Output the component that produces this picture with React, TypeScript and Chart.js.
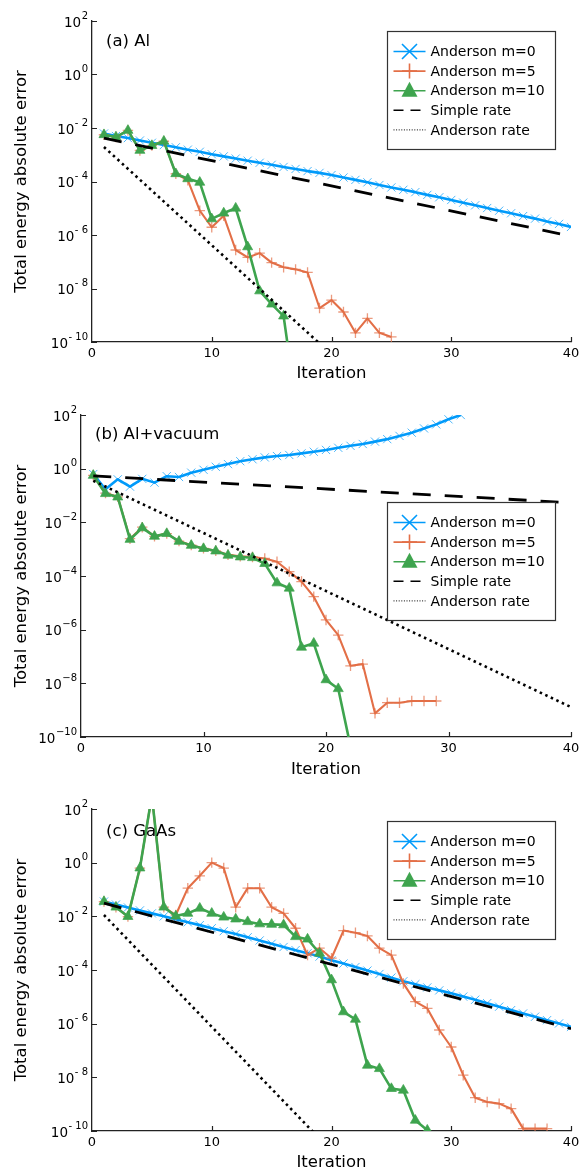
import React, { useEffect, useRef } from 'react';
import { Chart, registerables } from 'chart.js';

Chart.register(...registerables);

const FONT = "'DejaVu Sans', 'Liberation Sans', sans-serif";
const BLUE = '#009AFA';
const ORANGE = '#E36F47';
const GREEN = '#3EA44E';

// ---------- categories / ticks / labels ----------
const iterations = [1, 2, 3, 4, 5, 6, 7, 8, 9, 10, 11, 12, 13, 14, 15, 16, 17, 18, 19, 20,
  21, 22, 23, 24, 25, 26, 27, 28, 29, 30, 31, 32, 33, 34, 35, 36, 37, 38, 39, 40];
const rateIterations = [1, 40];
const xMin = 0;
const xMax = 40;
const xTickStep = 10;
const yTickExponents = [2, 0, -2, -4, -6, -8, -10];
const seriesLabels = ['Anderson m=0', 'Anderson m=5', 'Anderson m=10', 'Simple rate', 'Anderson rate'];
const panelTitles = ['(a) Al', '(b) Al+vacuum', '(c) GaAs'];
const xAxisTitle = 'Iteration';
const yAxisTitle = 'Total energy absolute error';

// ---------- (a) Al ----------
const alM0 = [6.2e-3, 5.0e-3, 4.2e-3, 3.4e-3, 2.8e-3, 2.3e-3, 1.9e-3, 1.55e-3, 1.29e-3, 1.05e-3,
  8.7e-4, 7.2e-4, 6.0e-4, 5.0e-4, 4.2e-4, 3.5e-4, 2.95e-4, 2.45e-4, 2.1e-4, 1.74e-4,
  1.41e-4, 1.15e-4, 9.3e-5, 7.4e-5, 6.0e-5, 4.9e-5, 4.0e-5, 3.16e-5, 2.57e-5, 2.04e-5,
  1.62e-5, 1.29e-5, 1.02e-5, 8.1e-6, 6.5e-6, 5.1e-6, 4.1e-6, 3.2e-6, 2.6e-6, 2.0e-6];
const alM5 = [5.6e-3, 4.6e-3, 8.1e-3, 1.45e-3, 2.2e-3, 3.2e-3, 1.95e-4, 1.12e-4, 8.1e-6, 1.95e-6,
  5.2e-6, 2.75e-7, 1.45e-7, 2.1e-7, 9.3e-8, 6.2e-8, 5.2e-8, 4.0e-8, 1.86e-9, 3.7e-9,
  1.32e-9, 2.2e-10, 7.6e-10, 2.2e-10, 1.55e-10];
const alM10 = [5.6e-3, 4.6e-3, 8.1e-3, 1.45e-3, 2.2e-3, 3.2e-3, 1.95e-4, 1.26e-4, 9.3e-5, 4.0e-6,
  6.6e-6, 1.0e-5, 3.6e-7, 8.1e-9, 2.6e-9, 9.3e-10, 6.3e-13];
const alSimpleRate = [4.2e-3, 9.1e-7];
const alAndersonRate = [1.95e-3, 2.4e-19];

// ---------- (b) Al+vacuum ----------
const vacM0 = [0.63, 0.17, 0.40, 0.214, 0.417, 0.302, 0.525, 0.49, 0.71, 0.91,
  1.175, 1.48, 1.9, 2.24, 2.63, 2.95, 3.24, 3.72, 4.27, 5.0,
  6.0, 7.1, 8.3, 10.2, 12.6, 16.6, 21.9, 31.6, 44.7, 69, 100];
const vacM5 = [0.56, 0.123, 0.089, 2.45e-3, 6.6e-3, 3.0e-3, 3.8e-3, 2.0e-3, 1.41e-3, 1.07e-3,
  8.7e-4, 6.2e-4, 5.4e-4, 5.1e-4, 4.5e-4, 3.4e-4, 1.45e-4, 6.2e-5, 1.7e-5, 2.3e-6,
  6.3e-7, 4.5e-8, 5.2e-8, 7.6e-10, 1.9e-9, 1.9e-9, 2.2e-9, 2.2e-9, 2.2e-9];
const vacM10 = [0.56, 0.117, 0.087, 2.3e-3, 6.2e-3, 3.0e-3, 3.8e-3, 1.95e-3, 1.38e-3, 1.05e-3,
  8.5e-4, 5.9e-4, 5.1e-4, 4.8e-4, 2.9e-4, 5.5e-5, 3.5e-5, 2.2e-7, 3.1e-7, 1.35e-8,
  6.3e-9, 4.5e-11];
const vacSimpleRate = [0.537, 0.0537];
const vacAndersonRate = [0.355, 1.3e-9];

// ---------- (c) GaAs ----------
const gaasM0 = [0.0355, 0.0275, 0.0214, 0.0166, 0.0129, 0.0100, 7.8e-3, 6.0e-3, 4.7e-3, 3.6e-3,
  2.8e-3, 2.2e-3, 1.66e-3, 1.26e-3, 9.5e-4, 7.2e-4, 5.5e-4, 4.2e-4, 3.16e-4, 2.3e-4,
  1.74e-4, 1.29e-4, 9.5e-5, 7.1e-5, 5.2e-5, 3.8e-5, 2.95e-5, 2.24e-5, 1.74e-5, 1.35e-5,
  1.02e-5, 7.8e-6, 5.8e-6, 4.3e-6, 3.2e-6, 2.4e-6, 1.82e-6, 1.35e-6, 1.02e-6, 7.6e-7];
const gaasM5 = [0.0355, 0.0219, 9.8e-3, 0.63, 316, 0.0219, 0.0112, 0.112, 0.324, 1.0,
  0.63, 0.0219, 0.112, 0.112, 0.0219, 0.0129, 3.6e-3, 3.6e-4, 6.5e-4, 2.75e-4,
  2.95e-3, 2.45e-3, 1.86e-3, 6.5e-4, 3.6e-4, 3.16e-5, 6.6e-6, 3.7e-6, 5.8e-7, 1.35e-7,
  1.2e-8, 1.74e-9, 1.2e-9, 1.05e-9, 6.8e-10, 1.23e-10, 1.23e-10, 1.23e-10];
const gaasM10 = [0.0355, 0.0219, 9.8e-3, 0.63, 316, 0.0219, 0.0102, 0.0129, 0.020, 0.0129,
  9.3e-3, 7.9e-3, 6.3e-3, 5.2e-3, 5.0e-3, 4.8e-3, 1.74e-3, 1.41e-3, 4.2e-4, 4.3e-5,
  2.75e-6, 1.45e-6, 2.8e-8, 2.1e-8, 3.8e-9, 3.3e-9, 2.5e-10, 1.07e-10];
const gaasSimpleRate = [0.0309, 6.5e-7];
const gaasAndersonRate = [0.0112, 1e-20];

const panelSeries = [
  [alM0, alM5, alM10, alSimpleRate, alAndersonRate],
  [vacM0, vacM5, vacM10, vacSimpleRate, vacAndersonRate],
  [gaasM0, gaasM5, gaasM10, gaasSimpleRate, gaasAndersonRate],
];

// ---------- layout / style (not data) ----------
const layouts = [
  { height: 390, top: 21, left: 92, xAxisH: 48, xTitlePad: 8, minus: '- ', legendTop: 10, titleDy: 21 },
  { height: 390, top: 25, left: 81, xAxisH: 43, xTitlePad: 2, minus: '\u2212', legendTop: 87, titleDy: 20 },
  { height: 391, top: 29, left: 92, xAxisH: 40, xTitlePad: 0, minus: '- ', legendTop: 12, titleDy: 23 },
];

const styles = [
  { color: BLUE, width: 2.6, point: 'crossRot', radius: 5.8, pColor: 'rgba(0,154,250,0.7)', pWidth: 1, pFill: 'rgba(0,0,0,0)', dash: [] as number[], legendDash: [] as number[], legendWidth: 1.6, order: 5 },
  { color: ORANGE, width: 2.1, point: 'cross', radius: 5.2, pColor: 'rgba(227,111,71,0.7)', pWidth: 1.3, pFill: 'rgba(0,0,0,0)', dash: [], legendDash: [], legendWidth: 1.6, order: 4 },
  { color: GREEN, width: 2.6, point: 'triangle', radius: 5.8, pColor: 'rgba(62,164,78,0.7)', pWidth: 1, pFill: GREEN, dash: [], legendDash: [], legendWidth: 1.6, order: 3 },
  { color: '#000', width: 2.8, point: false, radius: 0, pColor: '#000', pWidth: 0, pFill: '#000', dash: [18, 14], legendDash: [10, 7], legendWidth: 1.6, order: 2 },
  { color: '#000', width: 2.6, point: false, radius: 0, pColor: '#000', pWidth: 0, pFill: '#000', dash: [2.5, 3.6], legendDash: [1, 1.6], legendWidth: 1, order: 1 },
];

function drawLegendMarker(ctx: CanvasRenderingContext2D, kind: any, x: number, y: number, color: string) {
  ctx.save();
  ctx.setLineDash([]);
  ctx.strokeStyle = color;
  ctx.fillStyle = color;
  ctx.lineWidth = 1.6;
  if (kind === 'crossRot') {
    const r = 7.5;
    ctx.beginPath();
    ctx.moveTo(x - r, y - r); ctx.lineTo(x + r, y + r);
    ctx.moveTo(x - r, y + r); ctx.lineTo(x + r, y - r);
    ctx.stroke();
  } else if (kind === 'cross') {
    const r = 7.5;
    ctx.beginPath();
    ctx.moveTo(x - r, y); ctx.lineTo(x + r, y);
    ctx.moveTo(x, y - r); ctx.lineTo(x, y + r);
    ctx.stroke();
  } else if (kind === 'triangle') {
    ctx.beginPath();
    ctx.moveTo(x, y - 9);
    ctx.lineTo(x + 8, y + 6);
    ctx.lineTo(x - 8, y + 6);
    ctx.closePath();
    ctx.fill();
  }
  ctx.restore();
}

function makeDecorPlugin(panelIndex: number) {
  const lay = layouts[panelIndex];
  return {
    id: 'decor' + panelIndex,
    afterDraw(chart: any) {
      const { ctx, chartArea } = chart;
      const xs = chart.scales.x;
      const ys = chart.scales.y;
      ctx.save();
      // inward tick marks
      ctx.strokeStyle = '#222';
      ctx.lineWidth = 1.2;
      ctx.beginPath();
      ys.ticks.forEach((t: any) => {
        const y = Math.round(ys.getPixelForValue(t.value)) + 0.5;
        ctx.moveTo(chartArea.left, y);
        ctx.lineTo(chartArea.left + 5, y);
      });
      xs.ticks.forEach((t: any) => {
        if (t.value === xMin) return;
        const x = Math.round(xs.getPixelForValue(t.value)) + 0.5;
        ctx.moveTo(x, chartArea.bottom);
        ctx.lineTo(x, chartArea.bottom - 5);
      });
      ctx.stroke();

      // y tick labels 10^e
      ctx.fillStyle = '#000';
      ctx.textBaseline = 'middle';
      ctx.textAlign = 'left';
      ys.ticks.forEach((t: any, i: number) => {
        const e = yTickExponents[i];
        const y = ys.getPixelForValue(t.value);
        const expStr = e < 0 ? lay.minus + String(-e) : String(e);
        ctx.font = `10px ${FONT}`;
        const we = ctx.measureText(expStr).width;
        ctx.font = `13.5px ${FONT}`;
        const wm = ctx.measureText('10').width;
        const right = chartArea.left - 4;
        ctx.fillText('10', right - we - wm - 0.5, y + 2);
        ctx.font = `10px ${FONT}`;
        ctx.fillText(expStr, right - we, y - 5);
      });

      // panel annotation
      ctx.font = `16.5px ${FONT}`;
      ctx.fillText(panelTitles[panelIndex], chartArea.left + 14, chartArea.top + lay.titleDy);

      // legend
      const w = 168;
      const h = 118;
      const bx = Math.round(chartArea.right - 16 - w) + 0.5;
      const by = Math.round(chartArea.top + lay.legendTop) + 0.5;
      ctx.fillStyle = '#fff';
      ctx.fillRect(bx, by, w, h);
      ctx.strokeStyle = '#333';
      ctx.lineWidth = 1.2;
      ctx.setLineDash([]);
      ctx.strokeRect(bx, by, w, h);
      chart.data.datasets.forEach((ds: any, i: number) => {
        const st = styles[i];
        const cy = by + 20 + i * 19.6;
        const x0 = bx + 6;
        const x1 = bx + 38;
        ctx.save();
        ctx.setLineDash(st.legendDash);
        ctx.strokeStyle = st.color;
        ctx.lineWidth = st.legendWidth;
        ctx.beginPath();
        ctx.moveTo(x0, cy);
        ctx.lineTo(x1, cy);
        ctx.stroke();
        ctx.restore();
        if (st.point) drawLegendMarker(ctx, st.point, (x0 + x1) / 2, cy, st.color);
        ctx.fillStyle = '#000';
        ctx.font = `14px ${FONT}`;
        ctx.textBaseline = 'middle';
        ctx.fillText(ds.label, bx + 43, cy + 1);
      });
      ctx.restore();
    },
  };
}

function buildChart(canvas: HTMLCanvasElement, panelIndex: number) {
  const lay = layouts[panelIndex];
  const series = panelSeries[panelIndex];
  const datasets = series.map((vals, i) => {
    const st = styles[i];
    const xsrc = i >= 3 ? rateIterations : iterations;
    return {
      label: seriesLabels[i],
      data: vals.map((v, k) => ({ x: xsrc[k], y: v })),
      borderColor: st.color,
      backgroundColor: st.color,
      borderWidth: st.width,
      borderDash: st.dash,
      borderCapStyle: 'butt',
      borderJoinStyle: 'round',
      pointStyle: st.point,
      pointRadius: st.radius,
      pointHoverRadius: st.radius,
      pointBorderColor: st.pColor,
      pointBackgroundColor: st.pFill,
      pointBorderWidth: st.pWidth,
      tension: 0,
      fill: false,
      order: st.order,
    };
  });

  return new Chart(canvas, {
    type: 'line',
    data: { datasets } as any,
    options: {
      animation: false,
      responsive: false,
      devicePixelRatio: 1,
      events: [],
      layout: { padding: { top: lay.top, right: 15, left: 0, bottom: 0 } },
      scales: {
        x: {
          type: 'linear',
          min: xMin,
          max: xMax,
          afterFit: (s: any) => { s.height = lay.xAxisH; },
          ticks: { stepSize: xTickStep, color: '#000', font: { family: FONT, size: 13 }, padding: 4, maxRotation: 0 },
          grid: { display: false, drawTicks: false },
          border: { display: true, color: '#222', width: 1.3 },
          title: {
            display: true,
            text: xAxisTitle,
            color: '#000',
            font: { family: FONT, size: 16.5, lineHeight: 1.0 },
            padding: { top: 0, bottom: lay.xTitlePad },
          },
        },
        y: {
          type: 'logarithmic',
          min: Math.pow(10, yTickExponents[yTickExponents.length - 1]),
          max: Math.pow(10, yTickExponents[0]),
          afterFit: (s: any) => { s.width = lay.left; },
          afterBuildTicks: (s: any) => { s.ticks = yTickExponents.map((e) => ({ value: Math.pow(10, e) })); },
          ticks: { display: false },
          grid: { display: false, drawTicks: false },
          border: { display: true, color: '#222', width: 1.3 },
          title: {
            display: true,
            text: yAxisTitle,
            color: '#000',
            font: { family: FONT, size: 16.5, lineHeight: 1.2 },
            padding: { top: 12, bottom: 0 },
          },
        },
      } as any,
      plugins: {
        legend: { display: false },
        tooltip: { enabled: false },
      },
    },
    plugins: [makeDecorPlugin(panelIndex)],
  } as any);
}

export default function App() {
  const r0 = useRef<HTMLCanvasElement>(null);
  const r1 = useRef<HTMLCanvasElement>(null);
  const r2 = useRef<HTMLCanvasElement>(null);
  const refs = [r0, r1, r2];

  useEffect(() => {
    document.body.style.margin = '0';
    document.body.style.background = '#fff';
    const charts = refs.map((r, i) => buildChart(r.current as HTMLCanvasElement, i));
    return () => charts.forEach((c) => c.destroy());
  }, []);

  return (
    <div style={{ width: 586, background: '#fff' }}>
      {layouts.map((lay, i) => (
        <canvas
          key={i}
          ref={refs[i]}
          width={586}
          height={lay.height}
          style={{ display: 'block', width: 586, height: lay.height }}
        />
      ))}
    </div>
  );
}
